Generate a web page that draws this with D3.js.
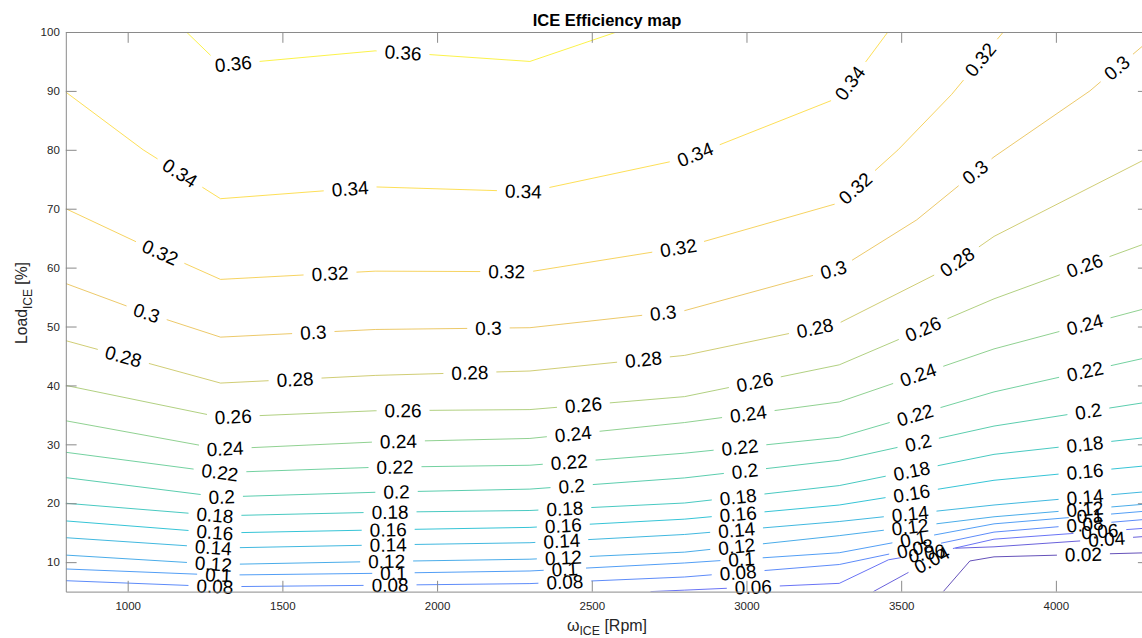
<!DOCTYPE html>
<html>
<head>
<meta charset="utf-8">
<script src="https://cdn.jsdelivr.net/npm/d3@7"></script>
<style>
  body { margin: 0; background: #fff; }
  svg text { font-family: "Liberation Sans", Arial, Helvetica, sans-serif; }
</style>
</head>
<body>
<svg id="chart" width="1142" height="638"></svg>
<script>
// contour levels of the efficiency map
var levels = [0.02, 0.04, 0.06, 0.08, 0.1, 0.12, 0.14, 0.16, 0.18, 0.2, 0.22, 0.24, 0.26, 0.28, 0.3, 0.32, 0.34, 0.36];

// each contour line: [rpm, load %] vertices
var c02 = [[3636, 5], [3722, 10.2], [3800, 10.9], [4300, 11.6]];
var c04 = [[3410, 5], [3518, 8.1], [3668, 12.35], [3800, 12.6], [4300, 14.4]];
var c06 = [[2690, 5], [2800, 5.25], [3300, 6.4], [3459, 10.4], [3658, 12.2], [3800, 13.9], [4300, 15.8]];
var c08 = [[800, 6.85], [1300, 5.83], [1800, 6.07], [2300, 6.36], [2800, 7.48], [3300, 9.6], [3800, 15.1], [4300, 17.3]];
var c10 = [[800, 8.84], [1300, 7.8], [1800, 8.1], [2300, 8.5], [2800, 9.86], [3300, 11.6], [3800, 16.5], [4300, 18.7]];
var c12 = [[800, 11.2], [1300, 9.6], [1800, 10.1], [2300, 10.5], [2800, 11.7], [3300, 14.5], [3800, 17.7], [4300, 19.9]];
var c14 = [[800, 14.15], [1300, 12.4], [1800, 12.9], [2300, 13.3], [2800, 14.7], [3300, 16.9], [3800, 19.7], [4300, 22.0]];
var c16 = [[800, 17.0], [1300, 14.95], [1800, 15.46], [2300, 15.9], [2800, 17.3], [3300, 19.7], [3800, 23.9], [4300, 26.4]];
var c18 = [[800, 20.0], [1300, 17.87], [1800, 18.46], [2300, 18.77], [2800, 20.04], [3300, 23.0], [3800, 28.3], [4300, 31.2]];
var c20 = [[800, 24.35], [1300, 21.06], [1800, 21.86], [2300, 22.4], [2800, 24.3], [3300, 27.3], [3800, 33.1], [4300, 37.2]];
var c22 = [[800, 28.65], [1300, 25.2], [1800, 26.1], [2300, 26.45], [2800, 28.5], [3300, 31.2], [3800, 38.9], [4300, 44.8]];
var c24 = [[800, 34], [1300, 29.2], [1800, 30.4], [2300, 31.0], [2800, 33.7], [3300, 37.2], [3800, 46.2], [4300, 53.2]];
var c26 = [[800, 40], [1300, 34.6], [1800, 35.7], [2300, 35.9], [2800, 38.1], [3300, 43.5], [3800, 54.7], [4300, 64.3]];
var c28 = [[800, 47.6], [1300, 40.4], [1800, 41.7], [2300, 42.45], [2800, 45.1], [3300, 50.6], [3658, 60.1], [3800, 65.3], [4300, 78.7]];
var c30 = [[800, 57.3], [1037, 52.7], [1300, 48.2], [1800, 49.5], [2300, 49.8], [2800, 52.7], [3300, 59.9], [3550, 68.1], [3800, 78.8], [4110, 90], [4300, 98.5]];
var c32 = [[800, 70], [1035, 64.2], [1300, 58], [1800, 59.4], [2300, 59.3], [2800, 63.5], [3300, 71], [3490, 80], [3663, 89.4], [3830, 100]];
var c34 = [[800, 89.8], [1050, 80], [1300, 71.7], [1800, 73.7], [2300, 72.9], [2800, 78.5], [3300, 88.9], [3457, 100]];
var c36 = [[1190, 100], [1300, 94.4], [1800, 96.8], [2300, 95.0], [2580, 100]];

// rpm where each line carries an inline label
var l02 = [4089];
var l04 = [3599, 4164];
var l06 = [3022, 3583, 4142];
var l08 = [1282, 1848, 2413, 2973, 3545, 4094];
var l10 = [1293, 1859, 2413, 2984, 3539, 4110];
var l12 = [1277, 1837, 2408, 2968, 3529, 4094];
var l14 = [1277, 1842, 2403, 2968, 3529, 4094];
var l16 = [1282, 1842, 2408, 2973, 3534, 4094];
var l18 = [1282, 1848, 2413, 2973, 3534, 4094];
var l20 = [1304, 1869, 2435, 2995, 3555, 4105];
var l22 = [1298, 1864, 2427, 2979, 3545, 4094];
var l24 = [1315, 1875, 2440, 3006, 3555, 4094];
var l26 = [1341, 1890, 2473, 3027, 3571, 4093];
var l28 = [986, 1541, 2106, 2667, 3221, 3681];
var l30 = [1061, 1600, 2166, 2731, 3281, 3739, 4197];
var l32 = [1105, 1654, 2225, 2780, 3352, 3756];
var l34 = [1169, 1719, 2279, 2834, 3334];
var l36 = [1341, 1890];

var lines = [c02, c04, c06, c08, c10, c12, c14, c16, c18, c20, c22, c24, c26, c28, c30, c32, c34, c36];
var labelsAt = [l02, l04, l06, l08, l10, l12, l14, l16, l18, l20, l22, l24, l26, l28, l30, l32, l34, l36];

var xTicks = [1000, 1500, 2000, 2500, 3000, 3500, 4000];
var yTicks = [10, 20, 30, 40, 50, 60, 70, 80, 90, 100];

var svg = d3.select('#chart');

var x = d3.scaleLinear().domain([800, 4300]).range([65.8, 1148.7]);
var y = d3.scaleLinear().domain([5, 100]).range([591.6, 32]);

// parula-like colormap
var parula = ['#3e26a8', '#4749f2', '#2c7dfa', '#1a9be0', '#04b5cc', '#2abf9f', '#5fc77f', '#a9c45c', '#e7bb45', '#fdd131', '#f9fb15'];
var cmin = 0.02, cmax = 0.37;
var color = d3.scaleLinear()
  .domain(parula.map(function (d, i) { return cmin + i * (cmax - cmin) / (parula.length - 1); }))
  .range(parula)
  .clamp(true);

svg.append('clipPath').attr('id', 'plotclip')
  .append('rect')
  .attr('x', x.range()[0]).attr('y', y.range()[1])
  .attr('width', x.range()[1] - x.range()[0])
  .attr('height', y.range()[0] - y.range()[1]);

var lineLayer = svg.append('g').attr('clip-path', 'url(#plotclip)');
var textLayer = svg.append('g');

var tick = 10.8;

function axisStyle(g) {
  g.select('.domain').attr('stroke', '#8a8a8a');
  g.selectAll('.tick line').attr('stroke', '#8a8a8a');
  g.selectAll('.tick text').attr('fill', '#262626').style('font-size', '11.5px');
}

svg.append('g')
  .attr('transform', 'translate(0,' + y(5) + ')')
  .call(d3.axisBottom(x).tickValues(xTicks).tickSizeInner(-tick).tickSizeOuter(0).tickPadding(10).tickFormat(d3.format('d')))
  .call(axisStyle);
svg.append('g')
  .attr('transform', 'translate(0,' + y(100) + ')')
  .call(d3.axisTop(x).tickValues(xTicks).tickSizeInner(-tick).tickSizeOuter(0).tickFormat(''))
  .call(axisStyle);
svg.append('g')
  .attr('transform', 'translate(' + x(800) + ',0)')
  .call(d3.axisLeft(y).tickValues(yTicks).tickSizeInner(-tick).tickSizeOuter(0).tickPadding(6))
  .call(axisStyle);
svg.append('g')
  .attr('transform', 'translate(' + x(4300) + ',0)')
  .call(d3.axisRight(y).tickValues(yTicks).tickSizeInner(-tick).tickSizeOuter(0).tickFormat(''))
  .call(axisStyle);

var pad = 8;

lines.forEach(function (pts, k) {
  var level = levels[k];
  var p = pts.map(function (d) { return [x(d[0]), y(d[1])]; });
  var cum = [0];
  for (var i = 1; i < p.length; i++) {
    cum.push(cum[i - 1] + Math.hypot(p[i][0] - p[i - 1][0], p[i][1] - p[i - 1][1]));
  }
  var total = cum[cum.length - 1];
  var gaps = [];

  labelsAt[k].forEach(function (r) {
    var px = x(r);
    var j = 0;
    while (j < p.length - 2 && p[j + 1][0] < px) j++;
    var dx = p[j + 1][0] - p[j][0], dy = p[j + 1][1] - p[j][1];
    var t = (px - p[j][0]) / dx;
    var py = p[j][1] + t * dy;
    var s = cum[j] + t * (cum[j + 1] - cum[j]);
    var ang = Math.atan2(dy, dx) * 180 / Math.PI;
    var txt = textLayer.append('text')
      .attr('transform', 'translate(' + px + ',' + py + ') rotate(' + ang + ')')
      .attr('text-anchor', 'middle')
      .attr('dy', '0.35em')
      .style('font-size', '19px')
      .attr('fill', '#000')
      .text(String(+level.toFixed(2)));
    var w = txt.node().getComputedTextLength();
    gaps.push([s - w / 2 - pad, s + w / 2 + pad]);
  });

  gaps.sort(function (a, b) { return a[0] - b[0]; });
  var dash = [], pos = 0;
  gaps.forEach(function (g) {
    var a = Math.max(g[0], pos), b = Math.max(g[1], a);
    dash.push(a - pos, b - a);
    pos = b;
  });
  dash.push(Math.max(total - pos, 0) + 10, 0);

  lineLayer.append('path')
    .attr('d', d3.line()(p))
    .attr('fill', 'none')
    .attr('stroke', color(level))
    .attr('stroke-width', 1)
    .attr('stroke-opacity', 0.8)
    .attr('stroke-dasharray', dash.join(' '));
});

// title and axis labels
svg.append('text')
  .attr('x', 607).attr('y', 26)
  .attr('text-anchor', 'middle')
  .style('font-size', '16.5px').style('font-weight', 'bold')
  .attr('fill', '#000')
  .text('ICE Efficiency map');

var xl = svg.append('text')
  .attr('x', 607).attr('y', 631)
  .attr('text-anchor', 'middle')
  .style('font-size', '16px')
  .attr('fill', '#262626');
xl.append('tspan').text('\u03c9');
xl.append('tspan').attr('dy', 4).style('font-size', '12.3px').text('ICE');
xl.append('tspan').attr('dy', -4).text(' [Rpm]');

var yl = svg.append('text')
  .attr('transform', 'translate(27,303) rotate(-90)')
  .attr('text-anchor', 'middle')
  .style('font-size', '15.7px')
  .attr('fill', '#262626');
yl.append('tspan').text('Load');
yl.append('tspan').attr('dy', 5).style('font-size', '12px').text('ICE');
yl.append('tspan').attr('dy', -5).text(' [%]');
</script>
</body>
</html>
